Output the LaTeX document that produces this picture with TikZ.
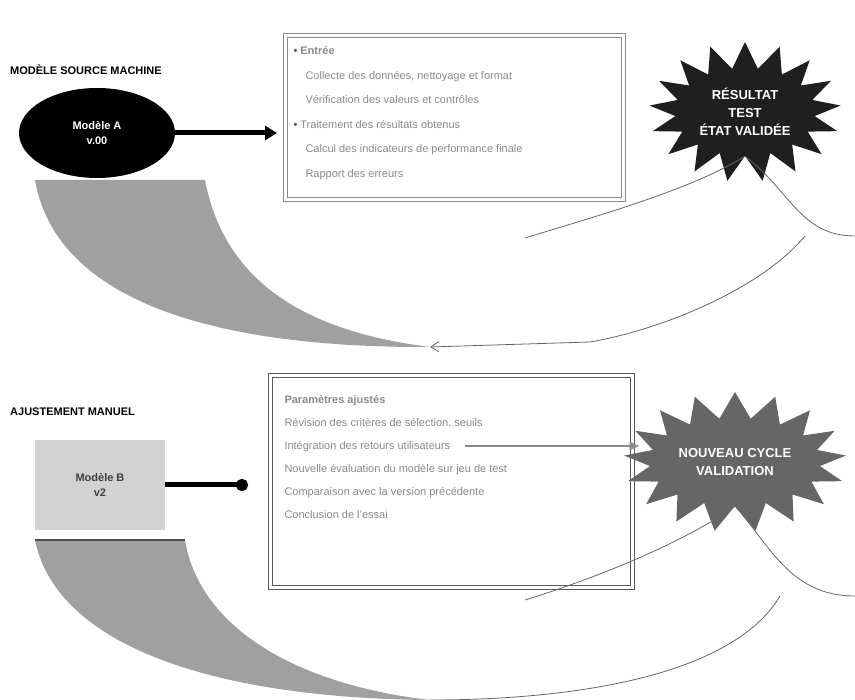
\documentclass[tikz,border=0pt]{standalone}
\usepackage{fontspec}
\setmainfont{Liberation Sans}
\usetikzlibrary{shapes.geometric,shapes.symbols,arrows.meta,calc}
\definecolor{bandgray}{HTML}{A0A0A0}
\definecolor{listgray}{HTML}{8A8A8A}
\definecolor{boxgray}{HTML}{D2D2D2}
\tikzset{
  lbl/.style={anchor=west,font=\fontsize{11}{13}\selectfont\bfseries,text=black,inner sep=0},
  listbox/.style={draw=black!45,double=white,double distance=3pt,line width=1pt,anchor=north west,
     align=left,text=listgray,inner sep=8pt},
  fatarrow/.style={line width=5pt,-{Triangle[length=12pt,width=14pt]}},
  band/.style={fill=bandgray},
  thinline/.style={draw=black!60,line width=0.8pt},
  burst/.style={starburst,starburst points=17,starburst point height=26pt,random starburst=0,
     align=center,font=\fontsize{13}{18}\selectfont\bfseries,inner sep=4pt}
}
\begin{document}
\begin{tikzpicture}[x=1pt,y=-1pt]
\useasboundingbox (0,0) rectangle (855,700);
% ---------------- top row ----------------
\node[lbl] (t1) at (10,70) {MODÈLE SOURCE MACHINE};
\node[ellipse,fill=black,text=white,minimum width=156pt,minimum height=90pt,align=center,
      font=\fontsize{11}{15}\selectfont\bfseries] (e1) at (97,133) {Modèle A\\ v.00};
\node[listbox,inner ysep=11pt] (b1) at (285,35)
 {\begin{minipage}[t][142pt][t]{322pt}\fontsize{11}{24.5}\selectfont
  \textcolor{black!70}{•} \textbf{Entrée}\\
  \hspace*{12pt}Collecte des données, nettoyage et format\\
  \hspace*{12pt}Vérification des valeurs et contrôles\\
  \textcolor{black!70}{•} Traitement des résultats obtenus\\
  \hspace*{12pt}Calcul des indicateurs de performance finale\\
  \hspace*{12pt}Rapport des erreurs\end{minipage}};
\draw[fatarrow,shorten >=8pt] (e1.east) -- (e1.east -| b1.west);
\node[burst,fill=black!88,text=white,minimum width=150pt,minimum height=140pt] (s1) at (745,112)
 {RÉSULTAT\\TEST\\ÉTAT VALIDÉE};
% gray band
\coordinate (g1a) at (35,180);
\coordinate (g1b) at (205,180);
\coordinate (g1t) at (430,347);
\fill[band] (g1a) .. controls (55,295) and (200,348) .. (g1t)
   .. controls (310,332) and (225,285) .. (g1b) -- cycle;
% thin loop lines
\coordinate (a1l) at (525,238);
\coordinate (a1r) at (855,236);
\coordinate (c1) at (590,342);
\draw[thinline] (a1l) .. controls (600,215) and (690,190) .. (s1.south)
                .. controls (790,190) and (800,236) .. (a1r);
\draw[thinline,-{Straight Barb[length=8pt,width=10pt]}] (c1) -- (g1t);
\draw[thinline] (c1) .. controls (660,330) and (760,290) .. (805,236);
% ---------------- bottom row ----------------
\node[lbl] (t2) at (10,412) {AJUSTEMENT MANUEL};
\node[rectangle,fill=boxgray,minimum width=130pt,minimum height=90pt,align=center,
      font=\fontsize{11}{15}\selectfont\bfseries,text=black!75] (r2) at (100,485) {Modèle B\\ v2};
\node[listbox,draw=black!65,inner xsep=14pt,inner ysep=10pt] (b2) at (270,375)
 {\begin{minipage}[t][192pt][t]{334pt}\fontsize{11}{23}\selectfont
  \vspace*{10pt}\textbf{Paramètres ajustés}\\
  Révision des critères de sélection, seuils\\
  Intégration des retours utilisateurs\\
  Nouvelle évaluation du modèle sur jeu de test\\
  Comparaison avec la version précédente\\
  Conclusion de l'essai\end{minipage}};
\draw[line width=5pt,-{Circle[length=12pt]},shorten >=22pt] (r2.east) -- (r2.east -| b2.west);
\node[burst,fill=black!60,text=white,minimum width=145pt,minimum height=140pt] (s2) at (735,462)
 {NOUVEAU CYCLE\\VALIDATION};
\coordinate (l2) at (465,446);
\draw[line width=1.5pt,draw=listgray,-{Latex[length=10pt,width=10pt]}] (l2) -- (l2 -| s2.west);
% gray band
\coordinate (g2a) at (35,540);
\coordinate (g2b) at (185,540);
\coordinate (g2t) at (430,700);
\fill[band] (g2a) .. controls (55,640) and (200,698) .. (g2t)
   .. controls (300,685) and (200,630) .. (g2b) -- cycle;
\draw[line width=1.5pt,black!70] (g2a) -- (g2b);
% thin loop lines
\coordinate (a2l) at (525,600);
\coordinate (a2r) at (855,596);
\draw[thinline] (a2l) .. controls (590,580) and (680,545) .. (s2.south)
                .. controls (770,545) and (790,596) .. (a2r);
\draw[thinline] (g2t) .. controls (560,700) and (730,680) .. (780,596);
\end{tikzpicture}
\end{document}
